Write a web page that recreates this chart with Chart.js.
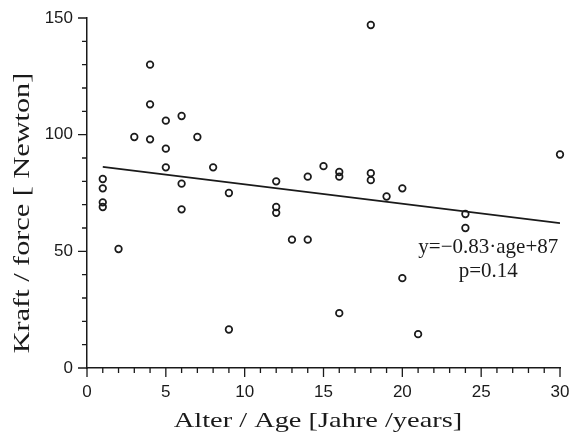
<!DOCTYPE html>
<html>
<head>
<meta charset="utf-8">
<script src="https://cdn.jsdelivr.net/npm/chart.js@4/dist/chart.umd.min.js"></script>
<style>
  body { margin: 0; background: #fff; }
  canvas { display: block; }
</style>
</head>
<body>
<canvas id="kraft" width="571" height="432"></canvas>
<script>
document.addEventListener('DOMContentLoaded', function () {

	'use strict';

	// Alter (Jahre) und Kraft (Newton)
	const ages = [1, 1, 1, 1, 2, 3, 4, 4, 4, 5, 5, 5, 6, 6, 6, 7, 8, 9, 9, 12, 12, 12, 13, 14, 14, 15, 16, 16, 16, 18, 18, 18, 19, 20, 20, 21, 24, 24, 30];
	const forces = [81, 77, 71, 69, 51, 99, 130, 113, 98, 106, 94, 86, 108, 79, 68, 99, 86, 75, 16.5, 80, 69, 66.5, 55, 82, 55, 86.5, 84, 82, 23.5, 147, 83.5, 80.5, 73.5, 77, 38.5, 14.5, 66, 60, 91.5];

	// Regressionsgerade (Endpunkte)
	const fitAges = [1, 30];
	const fitForces = [86.2, 62.1];

	const equationText = ['y=\u22120.83\u00b7age+87', 'p=0.14'];

	const xTitle = 'Alter / Age [Jahre /years]';
	const yTitle = 'Kraft / force [ Newton]';

	const ink = '#1a1a1a';
	const serif = '"Liberation Serif", "Times New Roman", serif';
	const sans = '"Liberation Sans", Arial, sans-serif';

	const points = ages.map(function (a, i) { return { x: a, y: forces[i] }; });
	const fit = fitAges.map(function (a, i) { return { x: a, y: fitForces[i] }; });

	// kleine und grosse Striche, Achsentitel, Gleichung
	const extras = {
		id: 'extras',
		afterDraw: function (chart) {
			const ctx = chart.ctx;
			const xs = chart.scales.x, ys = chart.scales.y;
			ctx.save();
			ctx.strokeStyle = ink;
			ctx.lineWidth = 1.3;
			ctx.beginPath();
			for (let v = 0; v <= 30; v++) {
				const px = xs.getPixelForValue(v);
				const len = v % 5 === 0 ? 9 : 5;
				ctx.moveTo(px, ys.bottom);
				ctx.lineTo(px, ys.bottom + len);
			}
			for (let v = 0; v <= 150; v += 10) {
				const py = ys.getPixelForValue(v);
				const len = v % 50 === 0 ? 9 : 5;
				ctx.moveTo(xs.left, py);
				ctx.lineTo(xs.left - len, py);
			}
			ctx.stroke();

			ctx.fillStyle = ink;
			ctx.textAlign = 'center';

			// Gleichung
			ctx.font = '21px ' + serif;
			ctx.textBaseline = 'middle';
			ctx.fillText(equationText[0], xs.getPixelForValue(25.45), ys.getPixelForValue(51.5));
			ctx.fillText(equationText[1], xs.getPixelForValue(25.45), ys.getPixelForValue(41.5));

			// Achsentitel (etwas breit gezogen wie im Original)
			ctx.textBaseline = 'alphabetic';
			ctx.save();
			ctx.font = '22px ' + serif;
			ctx.translate(318, 427);
			ctx.scale(1.29, 1);
			ctx.fillText(xTitle, 0, 0);
			ctx.restore();

			ctx.save();
			ctx.font = '24px ' + serif;
			ctx.translate(29, 213);
			ctx.rotate(-Math.PI / 2);
			ctx.scale(1.26, 1);
			ctx.fillText(yTitle, 0, 0);
			ctx.restore();

			ctx.restore();
		}
	};

	new Chart('kraft', {
		type: 'scatter',
		data: {
			datasets: [{
				label: 'Kraft',
				data: points,
				clip: false,
				pointStyle: 'circle',
				pointRadius: 3.3,
				pointBorderWidth: 1.7,
				pointBorderColor: ink,
				pointBackgroundColor: 'rgba(255,255,255,0)'
			}, {
				type: 'line',
				label: 'Regression',
				data: fit,
				borderColor: ink,
				borderWidth: 1.6,
				pointRadius: 0,
				fill: false
			}]
		},
		options: {
			responsive: false,
			animation: false,
			layout: { padding: { top: 18, right: 11, left: 0, bottom: 0 } },
			plugins: {
				legend: { display: false },
				tooltip: { enabled: false }
			},
			scales: {
				x: {
					type: 'linear',
					min: 0,
					max: 30,
					afterFit: function (scale) {
						scale.height = 64;
						scale.paddingLeft = 0;
						scale.paddingRight = 0;
					},
					grid: { display: true, drawOnChartArea: false, drawTicks: false },
					border: { display: true, color: ink, width: 1.5 },
					ticks: {
						stepSize: 5,
						padding: 14,
						color: ink,
						font: { family: sans, size: 17 }
					}
				},
				y: {
					type: 'linear',
					min: 0,
					max: 150,
					afterFit: function (scale) {
						scale.width = 87;
						scale.paddingTop = 0;
						scale.paddingBottom = 0;
					},
					grid: { display: true, drawOnChartArea: false, drawTicks: false },
					border: { display: true, color: ink, width: 1.5 },
					ticks: {
						stepSize: 50,
						padding: 14,
						color: ink,
						font: { family: sans, size: 17 }
					}
				}
			}
		},
		plugins: [extras]
	});

}); // DOMContentLoaded
</script>
</body>
</html>
